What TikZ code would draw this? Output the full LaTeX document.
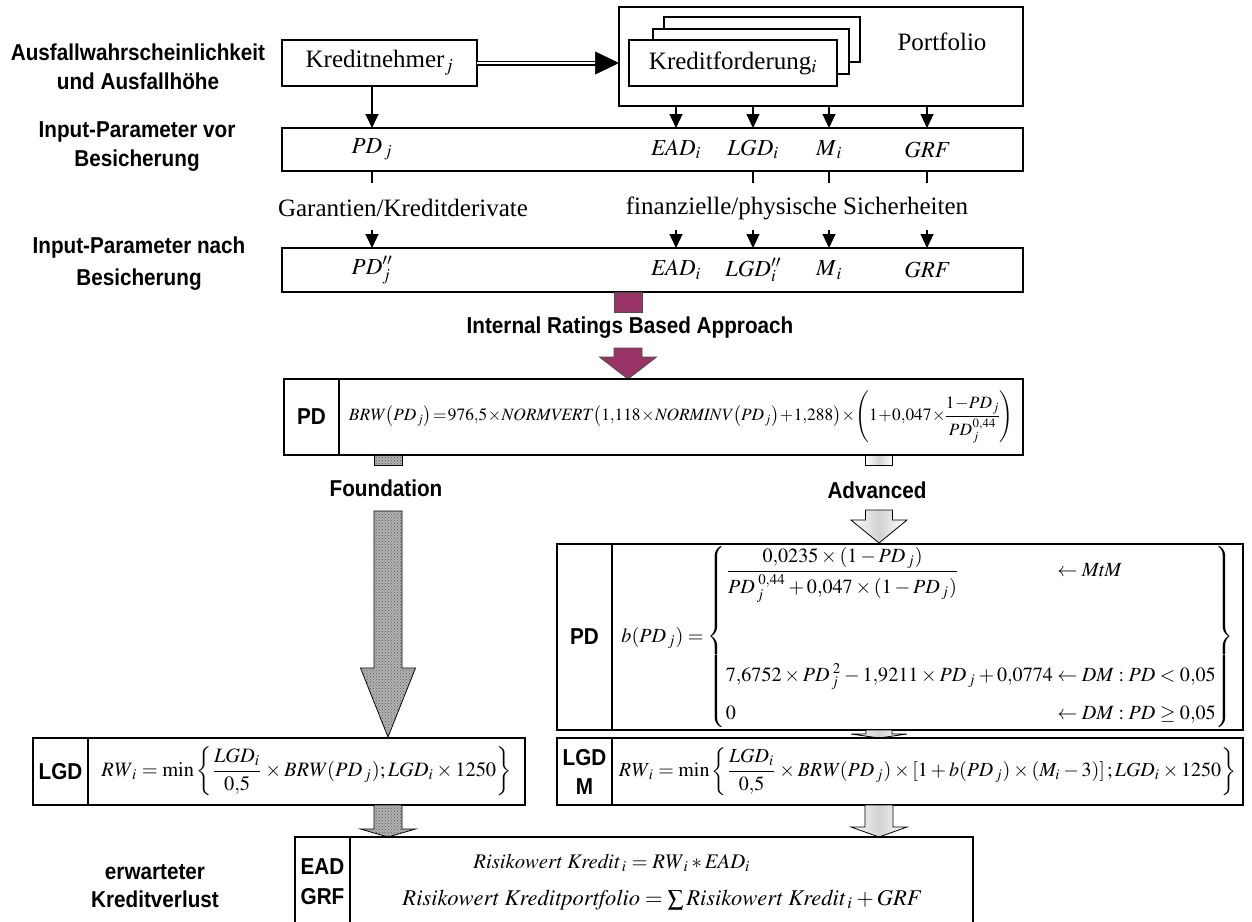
\documentclass[tikz,border=0pt]{standalone}
\usepackage{amsmath}
\usepackage{mathptmx}
\usepackage[no-math]{fontspec}
\setmainfont{Liberation Serif}
\newfontfamily\lblfont{Liberation Sans}[FakeStretch=0.9]
\usetikzlibrary{arrows.meta,patterns,calc}
\definecolor{irb}{RGB}{153,51,102}
\newcommand\blockarr[7][]{\path[#1] ({#2-#6},#3) -- ({#2+#6},#3) -- ({#2+#6},#4) -- ({#2+#7},#4) -- (#2,#5) -- ({#2-#7},#4) -- ({#2-#6},#4) -- cycle;}
\newcommand\tightmath{\medmuskip=0.5mu\thickmuskip=1.5mu\thinmuskip=1mu\nulldelimiterspace=0pt}
\newcommand\mi[1]{\mathit{#1}}
\tikzset{
 bx/.style={draw, line width=1.1pt, fill=white, inner sep=0pt, outer sep=0pt},
 lbl/.style={font=\lblfont\bfseries\fontsize{23}{29}\selectfont, align=center, inner sep=0pt},
 txt/.style={font=\fontsize{25}{30}\selectfont, inner sep=0pt},
 mth/.style={font=\fontsize{23}{28}\selectfont, inner sep=0pt},
 arr/.style={line width=1.1pt, -{Triangle[length=14pt,width=13pt]}},
 tickline/.style={line width=1.1pt},
 granite/.style={draw=black, line width=0.8pt, fill=gray!60, postaction={pattern=crosshatch dots, pattern color=gray!70!black}},
 light/.style={draw=black, line width=0.8pt, left color=white, right color=white, middle color=gray!35},
 plum/.style={draw=black!70, line width=0.8pt, fill=irb},
}
\begin{document}
\begin{tikzpicture}[x=1pt,y=-1pt]
\useasboundingbox (0,0) rectangle (1252,921);
\clip (0,0) rectangle (1252,921);

% left labels
\node[lbl] (l1) at (138,67) {Ausfallwahrscheinlichkeit\\und Ausfallhöhe};
\node[lbl] (l2) at (137,147) {Input-Parameter vor\\Besicherung};
\node[lbl, font=\lblfont\bfseries\fontsize{23}{32}\selectfont] (l3) at (139,264) {Input-Parameter nach\\Besicherung};
\node[lbl, font=\lblfont\bfseries\fontsize{23}{28}\selectfont] (l4) at (155,886) {erwarteter\\Kreditverlust};

% columns
\coordinate (cPD) at (372,0);
\coordinate (cEAD) at (676,0);
\coordinate (cLGD) at (753,0);
\coordinate (cM) at (829,0);
\coordinate (cGRF) at (927,0);
\coordinate (tk) at (0,183);
\coordinate (ta) at (0,230);

% top boxes
\node[bx, txt, minimum width=195pt, minimum height=46pt] (kn) at (379.5,63) {Kreditnehmer$_j$};
\node[bx, minimum width=404pt, minimum height=99pt] (pf) at (821,56.5) {};
\node[txt] (pft) at (942,42) {Portfolio};
\node[bx, minimum width=196pt, minimum height=45pt] (kf3) at (762,39.5) {};
\node[bx, minimum width=196pt, minimum height=45pt] (kf2) at (751,51.5) {};
\node[bx, txt, minimum width=208pt, minimum height=46pt] (kf1) at (733,63) {Kreditforderung$_i$};

\draw[double, double distance=1.8pt, line width=1.6pt] (kn.east) -- ([xshift=-22pt]kn.east -| pf.west);
\draw[line width=0.5pt, -{Triangle[length=24pt,width=23pt]}] ([xshift=-24pt]kn.east -| pf.west) -- (kn.east -| pf.west);

% row 1
\node[bx, minimum width=741pt, minimum height=43pt] (r1) at (652.5,149.5) {};
\node[mth] (r1pd) at (r1 -| cPD) {$\mi{PD}_{\,j}$};
\node[mth] (r1ead) at (r1 -| cEAD) {$\mi{EAD}_i$};
\node[mth] (r1lgd) at (r1 -| cLGD) {$\mi{LGD}_i$};
\node[mth] (r1m) at (r1 -| cM) {$M_{\,i}$};
\node[mth] (r1grf) at (r1 -| cGRF) {$\mi{GRF}$};
\draw[arr] (kn.south -| cPD) -- (r1.north -| cPD);
\draw[arr] (pf.south -| cEAD) -- (r1.north -| cEAD);
\draw[arr] (pf.south -| cLGD) -- (r1.north -| cLGD);
\draw[arr] (pf.south -| cM) -- (r1.north -| cM);
\draw[arr] (pf.south -| cGRF) -- (r1.north -| cGRF);

% ticks
\draw[tickline] (r1.south -| cPD) -- (cPD |- tk);
\draw[tickline] (r1.south -| cLGD) -- (cLGD |- tk);
\draw[tickline] (r1.south -| cM) -- (cM |- tk);
\draw[tickline] (r1.south -| cGRF) -- (cGRF |- tk);
\node[txt] (gar) at (403,208) {Garantien/Kreditderivate};
\node[txt] (fin) at (797,208) {finanzielle/physische Sicherheiten};

% row 2
\node[bx, minimum width=741pt, minimum height=44pt] (r2) at (652.5,270) {};
\node[mth] (r2pd) at (r2 -| cPD) {$\mi{PD}_j''$};
\node[mth] (r2ead) at (r2 -| cEAD) {$\mi{EAD}_i$};
\node[mth] (r2lgd) at (r2 -| cLGD) {$\mi{LGD}_i''$};
\node[mth] (r2m) at (r2 -| cM) {$M_{\,i}$};
\node[mth] (r2grf) at (r2 -| cGRF) {$\mi{GRF}$};
\draw[arr] (cPD |- ta) -- (r2.north -| cPD);
\draw[arr] (cEAD |- ta) -- (r2.north -| cEAD);
\draw[arr] (cLGD |- ta) -- (r2.north -| cLGD);
\draw[arr] (cM |- ta) -- (r2.north -| cM);
\draw[arr] (cGRF |- ta) -- (r2.north -| cGRF);

% IRB arrow
\path[plum] (614,292) rectangle (642,312);
\node[lbl] (irbt) at (630,328) {Internal Ratings Based Approach};
\blockarr[plum]{628}{348}{357}{379}{14}{28.5}

% PD box
\node[bx, lbl, minimum width=55pt, minimum height=76pt] (pdl) at (311.5,417) {PD};
\node[bx, minimum width=684pt, minimum height=76pt, anchor=west] (pdf) at (pdl.east) {\resizebox{664pt}{!}{$\tightmath \mi{BRW}\bigl(\mi{PD}_{\,j}\bigr)=976{,}5\times\mi{NORMVERT}\bigl(1{,}118\times\mi{NORMINV}\bigl(\mi{PD}_{\,j}\bigr)+1{,}288\bigr)\times\left(1+0{,}047\times\dfrac{1-\mi{PD}_{\,j}}{\mi{PD}_{\,j}^{\,0{,}44}}\right)$}};

% Foundation
\path[granite] (374,455) rectangle (402,465);
\node[lbl] (fnd) at (386,488) {Foundation};
\blockarr[granite]{388}{511}{668}{737}{14}{27.5}

% Advanced
\path[light] (865.5,455) rectangle (892.5,465);
\node[lbl] (adv) at (877,490) {Advanced};
\blockarr[light]{879}{510}{520}{543}{13.5}{28}

% Advanced PD box
\node[bx, lbl, minimum width=55pt, minimum height=186pt] (apl) at (584.5,637) {PD};
\node[bx, minimum width=631pt, minimum height=186pt, anchor=west] (apf) at (apl.east) {\resizebox{612pt}{!}{$\medmuskip=2.5mu b{\left(\mi{PD}_{\,j}\right)}=\left\{\begin{array}{@{}l@{}l@{}}
\dfrac{0{,}0235\times{\left(1-\mi{PD}_{\,j}\right)}}{\mi{PD}_{\,j}^{\;0{,}44}+0{,}047\times{\left(1-\mi{PD}_{\,j}\right)}} & {}\leftarrow \mi{MtM}\\[40pt]
7{,}6752\times \mi{PD}_{\,j}^{\;2}-1{,}9211\times \mi{PD}_{\,j}+0{,}0774 & {}\leftarrow \mi{DM}:\mi{PD}<0{,}05\\[7pt]
0 & {}\leftarrow \mi{DM}:\mi{PD}\geq 0{,}05
\end{array}\right\}$}};
\blockarr[light]{879}{730}{734}{738}{13}{28}

% LGD foundation
\node[bx, lbl, minimum width=55pt, minimum height=67pt] (fll) at (60.5,771.5) {LGD};
\node[bx, minimum width=437pt, minimum height=67pt, anchor=west] (flf) at (fll.east) {\resizebox{410pt}{!}{$\medmuskip=2.5mu \mi{RW}_i=\min\left\{\dfrac{\mi{LGD}_i}{0{,}5}\times \mi{BRW}{\left(\mi{PD}_{\,j}\right)};\mi{LGD}_i\times1250\right\}$}};

% LGD M advanced
\node[bx, lbl, minimum width=55pt, minimum height=67pt] (all) at (584.5,771.5) {LGD\\M};
\node[bx, minimum width=631pt, minimum height=67pt, anchor=west] (alf) at (all.east) {\resizebox{617pt}{!}{$\medmuskip=2.5mu \mi{RW}_i=\min\left\{\dfrac{\mi{LGD}_i}{0{,}5}\times \mi{BRW}{\left(\mi{PD}_{\,j}\right)}\times\left[1+b{\left(\mi{PD}_{\,j}\right)}\times{\left(M_i-3\right)}\right];\mi{LGD}_i\times1250\right\}$}};

\blockarr[granite]{388}{805}{829}{837}{14}{27.5}
\blockarr[light]{879}{805}{827}{837}{14}{28}

% EAD GRF box
\node[bx, minimum width=55pt, minimum height=100pt, anchor=north west] (eal) at (295,837) {};
\node[bx, minimum width=623pt, minimum height=100pt, anchor=north west] (eaf) at (eal.north east) {};
\node[lbl, font=\lblfont\bfseries\fontsize{23}{30}\selectfont] (ealt) at (322.5,882) {EAD\\GRF};
\node[inner sep=0pt] (e1) at (612,863) {\resizebox{277pt}{!}{$\mathit{Risikowert\ Kredit}_{\,i}=\mi{RW}_i*\mi{EAD}_i$}};
\node[inner sep=0pt] (e2) at (662,900) {\resizebox{519pt}{!}{$\mathit{Risikowert\ Kreditportfolio}=\sum\mathit{Risikowert\ Kredit}_{\,i}+\mi{GRF}$}};
\end{tikzpicture}
\end{document}
